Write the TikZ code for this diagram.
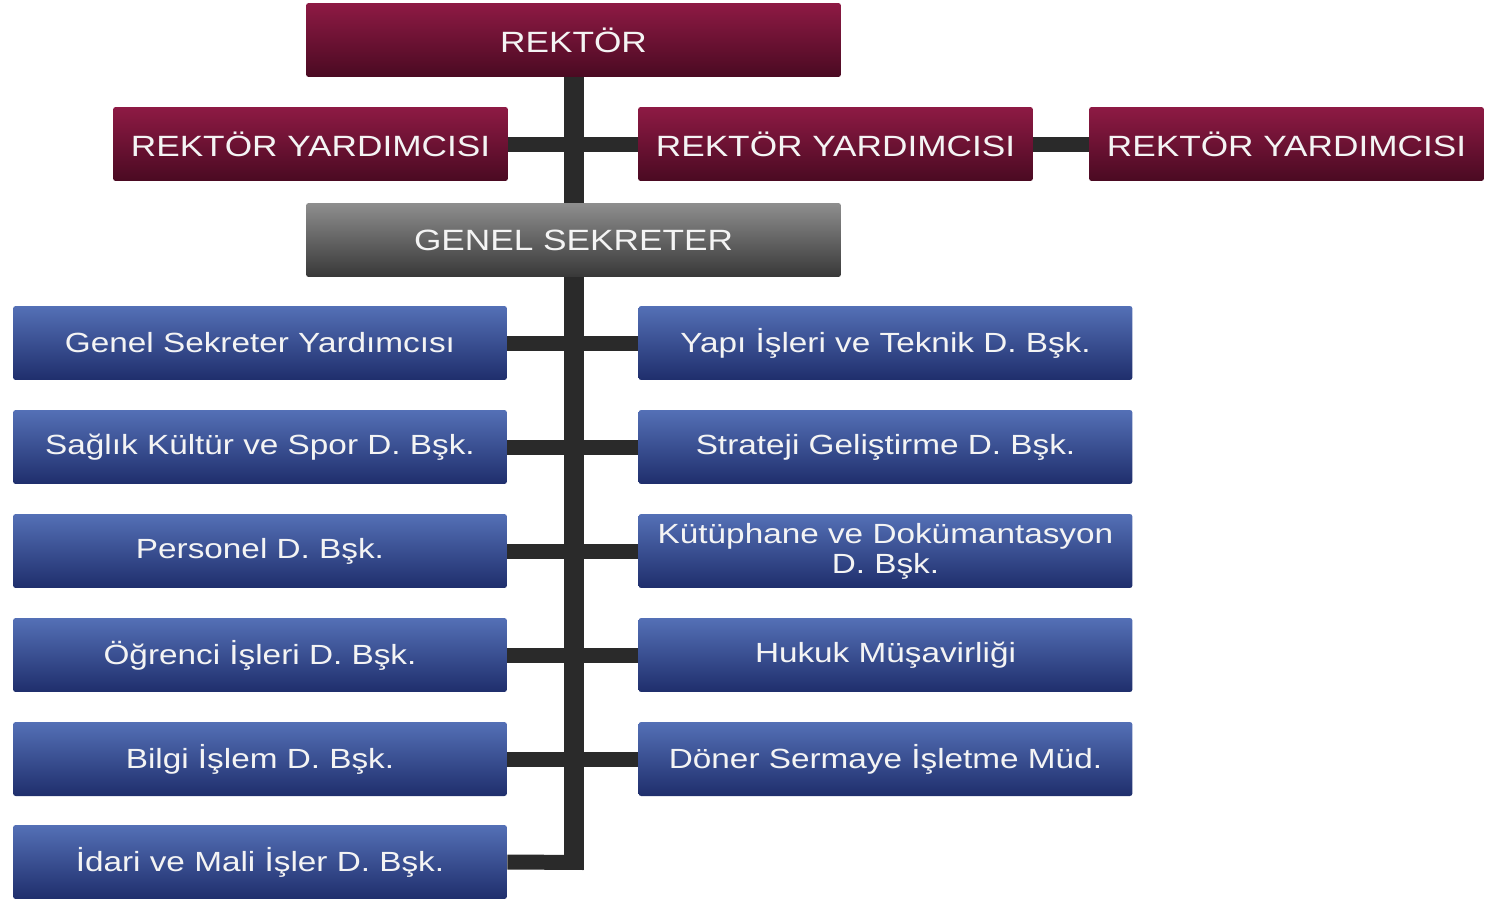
\documentclass[tikz,border=0pt]{standalone}
\usepackage{fontspec}
\newfontfamily\boxfont[FakeStretch=1.2]{Liberation Sans}
\definecolor{mtop}{HTML}{8E1A44}
\definecolor{mbot}{HTML}{4A0A22}
\definecolor{gtop}{HTML}{8E8E8E}
\definecolor{gbot}{HTML}{383838}
\definecolor{btop}{HTML}{5470B6}
\definecolor{bbot}{HTML}{1F2E6C}
\definecolor{barc}{HTML}{2A2A2A}
\definecolor{txt}{HTML}{F4F4F4}
\tikzset{
  box/.style={rectangle, rounded corners=1.5pt, minimum height=1.48cm, inner sep=0pt, align=center, text=txt},
  maroon/.style={box, top color=mtop, bottom color=mbot, minimum width=7.9cm, font=\boxfont\fontsize{16.7}{18}\selectfont},
  grey/.style={box, top color=gtop, bottom color=gbot, minimum width=10.7cm, font=\boxfont\fontsize{16.7}{18}\selectfont},
  blue/.style={box, top color=btop, bottom color=bbot, minimum width=9.88cm, font=\boxfont\fontsize{15.8}{17}\selectfont},
  trunk/.style={draw=barc, line width=0.4cm},
  hbar/.style={draw=barc, line width=0.3cm},
}
\begin{document}
\begin{tikzpicture}[x=0.02cm, y=-0.02cm]
\useasboundingbox (0,0) rectangle (1495,899);
% nodes
\node[maroon, minimum width=10.7cm] (rek) at (573.5,40) {REKTÖR};
\node[maroon] (ry1) at (310.5,144) {REKTÖR YARDIMCISI};
\node[maroon] (ry2) at (835.5,144) {REKTÖR YARDIMCISI};
\node[maroon] (ry3) at (1286.5,144) {REKTÖR YARDIMCISI};
\node[grey] (gs) at (573.5,240) {GENEL SEKRETER};
\node[blue] (l1) at (260,343) {Genel Sekreter Yardımcısı};
\node[blue] (l2) at (260,447) {Sağlık Kültür ve Spor D. Bşk.};
\node[blue] (l3) at (260,551) {Personel D. Bşk.};
\node[blue] (l4) at (260,655) {Öğrenci İşleri D. Bşk.};
\node[blue] (l5) at (260,759) {Bilgi İşlem D. Bşk.};
\node[blue] (l6) at (260,862) {İdari ve Mali İşler D. Bşk.};
\node[blue] (r1) at (885.5,343) {Yapı İşleri ve Teknik D. Bşk.};
\node[blue] (r2) at (885.5,447) {Strateji Geliştirme D. Bşk.};
\node[blue] (r3) at (885.5,551) {Kütüphane ve Dokümantasyon\\D. Bşk.};
\node[blue] (r4) at (885.5,655) {Hukuk Müşavirliği};
\node[blue] (r5) at (885.5,759) {Döner Sermaye İşletme Müd.};
% connectors
\coordinate (bot) at (573.5,870);
\coordinate (hend) at (583.5,862.5);
\draw[trunk] (rek.south) -- (gs.north);
\draw[trunk] (gs.south) -- (bot);
\draw[hbar] (ry1.east) -- (ry2.west);
\draw[hbar] (ry2.east) -- (ry3.west);
\draw[hbar] (l1.east) -- (r1.west);
\draw[hbar] (l2.east) -- (r2.west);
\draw[hbar] (l3.east) -- (r3.west);
\draw[hbar] (l4.east) -- (r4.west);
\draw[hbar] (l5.east) -- (r5.west);
\draw[hbar] (l6.east) -- (hend);
\end{tikzpicture}
\end{document}
